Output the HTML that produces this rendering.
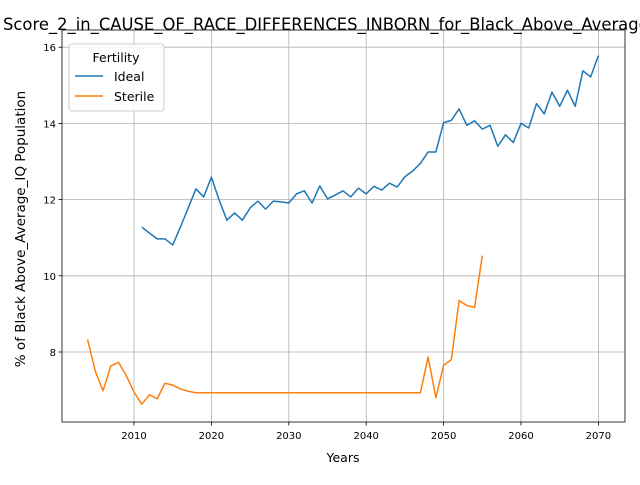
<!DOCTYPE html>
<html><head><meta charset="utf-8"><style>body{margin:0;background:#fff}svg{font-family:"DejaVu Sans","Liberation Sans",sans-serif}</style></head>
<body>
<svg id="chart" width="640" height="480"></svg>
<script>
const idealYears=[];for(let y=2011;y<=2070;y++)idealYears.push(y);
const idealValues=[11.28,11.12,10.97,10.97,10.81,11.28,11.78,12.28,12.07,12.59,11.99,11.46,11.65,11.46,11.78,11.96,11.75,11.96,11.94,11.91,12.15,12.23,11.91,12.36,12.02,12.12,12.23,12.07,12.3,12.15,12.35,12.25,12.43,12.33,12.6,12.75,12.95,13.25,13.25,14.02,14.08,14.38,13.95,14.07,13.85,13.95,13.4,13.7,13.5,14.0,13.88,14.52,14.25,14.82,14.45,14.87,14.45,15.38,15.22,15.78];
const sterileYears=[];for(let y=2004;y<=2055;y++)sterileYears.push(y);
const sterileValues=[8.33,7.5,6.98,7.63,7.73,7.38,6.95,6.63,6.88,6.77,7.18,7.13,7.03,6.97,6.93,6.93,6.93,6.93,6.93,6.93,6.93,6.93,6.93,6.93,6.93,6.93,6.93,6.93,6.93,6.93,6.93,6.93,6.93,6.93,6.93,6.93,6.93,6.93,6.93,6.93,6.93,6.93,6.93,6.93,7.87,6.8,7.65,7.8,9.35,9.22,9.17,10.53];
const xTicks=[2010,2020,2030,2040,2050,2060,2070];
const yTicks=[8,10,12,14,16];
const L=62,R=625,T=30,B=422;
const xs=y=>134+(y-2010)*7.74;
const ys=v=>352-(v-8)*38.1;
const svg=document.getElementById('chart');const NS='http://www.w3.org/2000/svg';
function mk(t,a,p){const e=document.createElementNS(NS,t);for(const k in a)e.setAttribute(k,a[k]);(p||svg).appendChild(e);return e;}
xTicks.forEach(t=>{const x=xs(t);
const g=mk('line',{x1:x,x2:x,y1:T,y2:B,stroke:'#b0b0b0','stroke-width':0.8});


mk('line',{x1:x,x2:x,y1:B,y2:B+3.5,stroke:'#000','stroke-width':0.8});
const tx=mk('text',{x:x,y:B+17,'text-anchor':'middle','font-size':10});tx.textContent=t;

});
yTicks.forEach(t=>{const y=ys(t);
const g=mk('line',{x1:L,x2:R,y1:y,y2:y,stroke:'#b0b0b0','stroke-width':0.8});


mk('line',{x1:L-3.5,x2:L,y1:y,y2:y,stroke:'#000','stroke-width':0.8});
const tx=mk('text',{x:L-6,y:y+4,'text-anchor':'end','font-size':10});tx.textContent=t;

});
function series(xv,yv,c,n){const p=mk('polyline',{points:xv.map((x,i)=>xs(x)+','+ys(yv[i])).join(' '),fill:'none',stroke:c,'stroke-width':1.5,'stroke-linejoin':'round'});

}
series(idealYears,idealValues,'#1f77b4','ideal-line');
series(sterileYears,sterileValues,'#ff7f0e','sterile-line');
const fr=mk('rect',{x:L,y:T,width:R-L,height:B-T,fill:'none',stroke:'#000','stroke-width':0.8});


</script>
<div style="position:absolute;left:0;top:0;width:640px;height:480px;pointer-events:none">
<svg width="640" height="480" style="position:absolute;left:0;top:0">
<text x="3" y="30" text-anchor="start" font-size="16.4">Score_2_in_CAUSE_OF_RACE_DIFFERENCES_INBORN_for_Black_Above_Average_IQ Population</text>
<text x="343" y="462" text-anchor="middle" font-size="12.5">Years</text>
<text transform="translate(25,229) rotate(-90)" text-anchor="middle" font-size="13.5">% of Black Above_Average_IQ Population</text>
<g>
<rect x="69" y="44" width="95" height="67" rx="3" fill="#fff" fill-opacity="0.8" stroke="#ccc"/>
<text x="116" y="62" text-anchor="middle" font-size="12.5">Fertility</text>
<line x1="75" x2="103" y1="76" y2="76" stroke="#1f77b4" stroke-width="1.5"/>
<text x="114" y="81" font-size="12.5">Ideal</text>
<line x1="75" x2="103" y1="96" y2="96" stroke="#ff7f0e" stroke-width="1.5"/>
<text x="114" y="101" font-size="12.5">Sterile</text>
</g>
</svg></div>
</body></html>
